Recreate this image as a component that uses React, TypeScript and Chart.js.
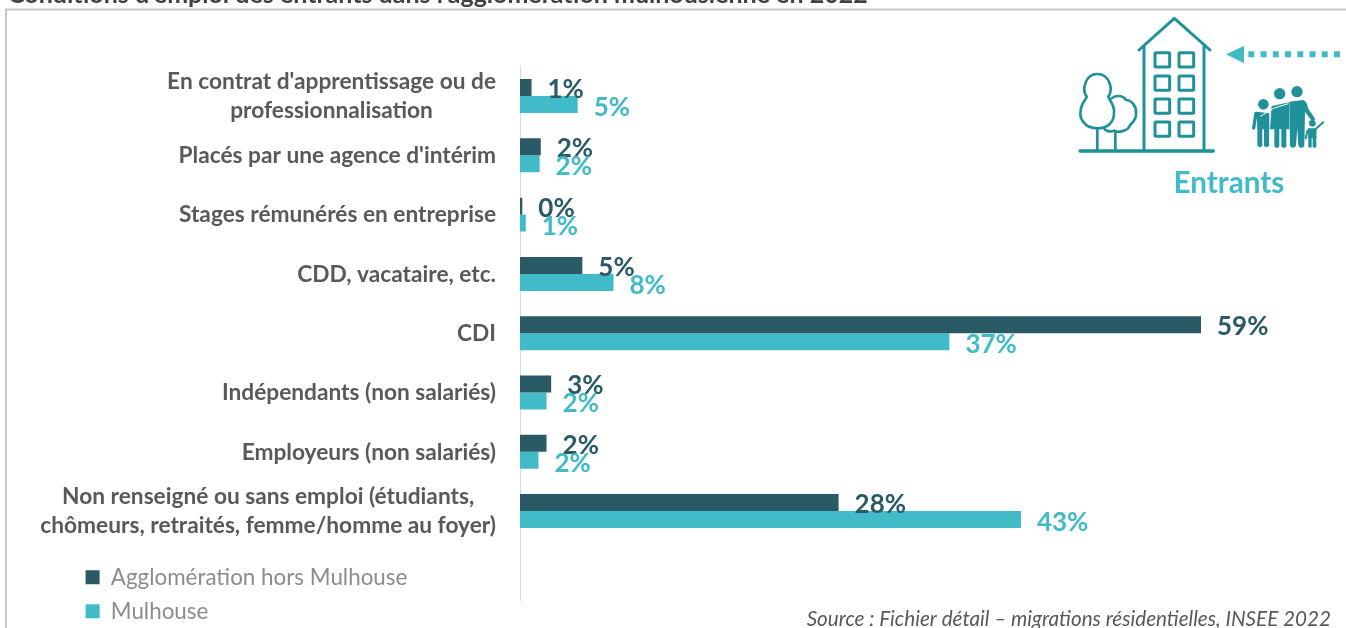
import React, { useEffect, useRef } from "react";
import { Chart, registerables } from "chart.js";

Chart.register(...registerables);

const categories: (string | string[])[] = [
  ["En contrat d'apprentissage ou de", "professionnalisation"],
  "Placés par une agence d'intérim",
  "Stages rémunérés en entreprise",
  "CDD, vacataire, etc.",
  "CDI",
  "Indépendants (non salariés)",
  "Employeurs (non salariés)",
  ["Non renseigné ou sans emploi (étudiants,", "chômeurs, retraités, femme/homme au foyer)"],
  "",
];
const agglomeration = [1.0, 1.8, 0.2, 5.4, 59, 2.7, 2.3, 27.6, null];
const mulhouse = [5.0, 1.7, 0.5, 8.1, 37.2, 2.3, 1.6, 43.4, null];
const agglomerationLabels = ["1%", "2%", "0%", "5%", "59%", "3%", "2%", "28%", ""];
const mulhouseLabels = ["5%", "2%", "1%", "8%", "37%", "2%", "2%", "43%", ""];

const TITLE = "Conditions d'emploi des entrants dans l'agglomération mulhousienne en 2022";
const SOURCE = "Source : Fichier détail – migrations résidentielles, INSEE 2022";

const DARK = "#2a5a66";
const TEAL = "#41bbc7";
const ICON = "#1f919b";
const FONT = "Lato, 'Open Sans', sans-serif";

const decorPlugin = {
  id: "decor",
  afterLayout(chart: any) {
    const lg = chart.legend;
    lg.left = 74;
    lg.right = 74 + 400;
    lg.top = 554.5;
    lg.bottom = 700;
  },
  beforeDraw(chart: any) {
    const { ctx } = chart;
    ctx.save();
    ctx.strokeStyle = "#c8c8c8";
    ctx.lineWidth = 2;
    ctx.beginPath();
    ctx.moveTo(6, 628);
    ctx.lineTo(6, 9.5);
    ctx.lineTo(1346, 9.5);
    ctx.stroke();
    ctx.fillStyle = "#404040";
    ctx.font = `bold 25px ${FONT}`;
    ctx.textAlign = "left";
    ctx.textBaseline = "alphabetic";
    ctx.fillText(TITLE, 8, 3);
    ctx.restore();
  },
  afterDraw(chart: any) {
    const { ctx } = chart;
    const yScale = chart.scales.y;
    ctx.save();
    // category labels: centred line by line, block right-aligned to the axis
    ctx.font = `bold 22.7px ${FONT}`;
    ctx.fillStyle = "#595959";
    ctx.textBaseline = "middle";
    ctx.textAlign = "center";
    chart.data.labels.forEach((label: any, i: number) => {
      const lines: string[] = Array.isArray(label) ? label : [label];
      const w = Math.max(...lines.map((l) => ctx.measureText(l).width));
      const cy = yScale.getPixelForTick(i);
      lines.forEach((l, k) => {
        ctx.fillText(l, 496 - w / 2, cy + 0.5 + (k - (lines.length - 1) / 2) * 29);
      });
    });
    // value labels
    ctx.font = `bold 26px ${FONT}`;
    ctx.textAlign = "left";
    chart.data.datasets.forEach((ds: any, d: number) => {
      const meta = chart.getDatasetMeta(d);
      ctx.fillStyle = ds.backgroundColor;
      meta.data.forEach((bar: any, i: number) => {
        if (ds.data[i] == null) return;
        ctx.fillText(ds.valueLabels[i], bar.x + 16, bar.y + 2 + d);
      });
    });
    // source
    ctx.font = `italic 20.65px ${FONT}`;
    ctx.fillStyle = "#595959";
    ctx.textAlign = "right";
    ctx.fillText(SOURCE, 1331, 619);
    ctx.restore();
  },
};

export default function App() {
  const ref = useRef<HTMLCanvasElement>(null);
  useEffect(() => {
    const chart = new Chart(ref.current as HTMLCanvasElement, {
      type: "bar",
      data: {
        labels: categories as any,
        datasets: [
          { label: "Agglomération hors Mulhouse", data: agglomeration, backgroundColor: DARK, valueLabels: agglomerationLabels } as any,
          { label: "Mulhouse", data: mulhouse, backgroundColor: TEAL, valueLabels: mulhouseLabels } as any,
        ],
      },
      plugins: [decorPlugin],
      options: {
        indexAxis: "y",
        animation: false,
        responsive: false,
        layout: { padding: { left: 520, right: 18, top: 66.4, bottom: 28 } },
        datasets: { bar: { barPercentage: 1, categoryPercentage: 0.573 } },
        scales: {
          x: { min: 0, max: 70, display: false },
          y: {
            grid: { display: false, drawTicks: false },
            border: { display: true, color: "#d9d9d9", width: 1 },
            ticks: { display: false },
          },
        },
        plugins: {
          title: { display: false },
          tooltip: { enabled: false },
          legend: {
            position: "chartArea",
            align: "start",
            labels: {
              boxWidth: 14,
              boxHeight: 14,
              padding: 11.6,
              color: "#8c8c8c",
              font: { family: FONT, size: 22.4 },
            },
          },
        },
      },
    } as any);
    return () => chart.destroy();
  }, []);

  return (
    <div style={{ position: "absolute", left: 0, top: 0, width: 1346, height: 628, overflow: "hidden", background: "#fff" }}>
      <canvas ref={ref} width={1346} height={628} style={{ display: "block", width: 1346, height: 628 }} />
      <svg width={306} height={210} viewBox="0 0 918 630" style={{ position: "absolute", left: 1040, top: 0 }}>
        <g fill="none" stroke={ICON} strokeWidth={9} strokeLinecap="round" strokeLinejoin="round">
          <path d="M297 150 L403 55 L510 150" />
          <path d="M312 140 V452 M492 140 V452" />
          <path d="M120 453 H520" strokeWidth={10} />
          {[158, 228, 297, 366].map((y) =>
            [345, 417].map((x) => <rect key={`${x}-${y}`} x={x} y={y} width={44} height={43} rx={3} />)
          )}
          <path strokeWidth={8} d="M172 385 C130 385 118 350 122 335 C122 310 138 300 140 290 C125 270 135 222 172 222 C210 222 220 270 205 290 C210 305 225 315 222 340 C222 365 205 385 172 385 Z" />
          <path strokeWidth={8} d="M215 295 C225 285 250 285 258 300 C275 300 290 320 288 340 C290 360 275 370 270 375 C265 395 230 398 222 392 C210 398 195 392 192 385" />
          <path strokeWidth={8} d="M172 385 V452 M226 395 V452" />
        </g>
        <g fill={ICON}>
          <circle cx={771} cy={275} r={17} />
          <circle cx={719} cy={281} r={17} />
          <circle cx={670} cy={313} r={16} />
          <circle cx={817} cy={370} r={10} />
          <path d="M748 305 L790 300 Q802 305 804 325 L826 358 L818 366 L795 335 L793 435 Q792 443 784 443 Q776 443 775 435 L772 385 L768 435 Q767 443 759 443 Q751 443 750 435 Z" />
          <path d="M695 318 L748 307 L748 388 L690 388 Z" />
          <rect x={703} y={385} width={15} height={58} rx={6} />
          <rect x={724} y={385} width={15} height={58} rx={6} />
          <path d="M650 335 L688 340 L688 388 L652 388 Z" />
          <rect x={652} y={380} width={15} height={61} rx={6} />
          <rect x={672} y={380} width={15} height={61} rx={6} />
          <path d="M803 385 L830 385 L829 415 L805 415 Z" />
          <rect x={805} y={405} width={10} height={38} rx={4} />
          <rect x={818} y={405} width={11} height={38} rx={4} />
        </g>
        <g fill="none" stroke={ICON} strokeLinecap="round">
          <path d="M648 340 L641 384" strokeWidth={10} />
          <path d="M826 388 L850 367" strokeWidth={6} />
          <path d="M802 393 L797 415" strokeWidth={6} />
        </g>
        <path d="M660 350 L700 325 L745 311" fill="none" stroke="#fff" strokeWidth={3} />
        <path d="M558 163 L612 138 L612 190 Z" fill={TEAL} />
        <path d="M625 163 H900" stroke={TEAL} strokeWidth={18} strokeDasharray="18 18.7" fill="none" />
        <text x={567} y={578} textAnchor="middle" fill={TEAL} style={{ font: `bold 89px ${FONT}` }}>Entrants</text>
      </svg>
    </div>
  );
}
